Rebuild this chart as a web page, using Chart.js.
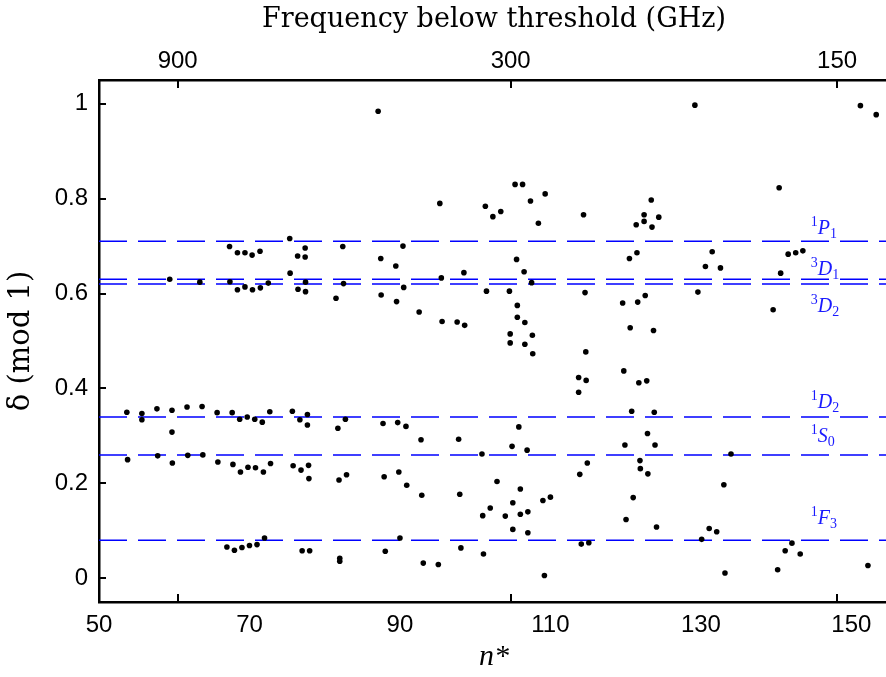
<!DOCTYPE html>
<html>
<head>
<meta charset="utf-8">
<script src="https://cdn.jsdelivr.net/npm/chart.js@4.4.0/dist/chart.umd.min.js"></script>
<style>
  html, body { margin: 0; padding: 0; background: #fff; overflow: hidden; }
  #wrap { position: relative; width: 893px; height: 677px; }
</style>
</head>
<body>
<div id="wrap"><canvas id="chart"></canvas></div>
<script>
// effective principal quantum number n* of each measured level
const nStar = [
  59.4, 63.4, 67.35, 68.4, 69.4, 70.35, 71.4, 75.35, 76.4, 77.4, 77.4, 82.4,
  67.4, 68.4, 69.4, 70.4, 71.45, 72.5, 75.4, 76.45, 77.45, 77.45, 81.5, 82.5,
  53.7, 55.7, 55.7, 57.7, 59.7, 59.7, 61.7, 63.7, 65.7, 67.7, 68.7, 69.7, 70.7,
  71.7, 72.7, 75.7, 76.7, 77.7, 77.7, 81.75, 82.75,
  53.8, 57.8, 59.75, 61.8, 63.8, 65.8, 67.8, 68.8, 69.8, 70.8, 71.85, 72.8,
  75.8, 76.85, 77.85, 77.9, 81.9, 82.9,
  67.0, 68.0, 69.0, 70.0, 71.0, 72.0, 77.0, 78.0, 82.0, 82.0,
  87.1, 95.3, 101.35, 102.35, 103.4, 105.3, 106.3, 107.35, 108.4, 109.3, 114.4,
  90.4, 87.45, 89.45, 105.5, 106.5, 95.5, 98.5, 90.5, 107.5, 87.5, 89.55,
  101.5, 104.55, 114.6, 92.55, 95.6, 97.6, 98.6, 105.6, 105.6, 106.6, 107.6,
  104.65, 104.65, 106.6,
  107.65, 114.7, 113.75, 114.75, 113.75, 87.75, 89.7, 90.8, 92.8, 97.8, 105.8,
  104.9, 106.9, 100.9, 87.9, 89.85, 90.9, 92.9, 97.95, 102.9, 106.0, 105.0,
  102.0, 101.0, 104.0, 106.0, 107.0, 109.0, 110.0, 105.0, 107.0, 113.9, 114.9,
  90.0, 88.05, 93.1, 95.1, 98.1, 101.1, 109.2, 114.1, 115.1,
  129.2, 151.2, 153.3, 140.4, 123.4, 122.45, 124.4, 121.4, 122.45, 123.5,
  121.5, 120.5, 131.5, 130.6, 132.6, 141.6, 142.6, 143.55, 140.6, 129.6,
  139.6, 119.6, 121.6, 122.6, 120.6, 123.7,
  119.75, 121.75, 122.8, 120.8, 123.8, 122.9, 119.9, 123.9, 121.9, 121.95,
  122.95, 134.0, 133.05, 121.0, 120.05, 124.1, 130.1, 131.1, 132.1, 133.2,
  142.1, 141.2, 143.2, 140.2, 152.2
];

// quantum defect delta (mod 1) of the same levels
const delta = [
  0.630, 0.624, 0.699, 0.686, 0.686, 0.681, 0.689, 0.716, 0.679, 0.696, 0.677, 0.699,
  0.625, 0.608, 0.614, 0.608, 0.612, 0.622, 0.643, 0.609, 0.624, 0.604, 0.590, 0.621,
  0.350, 0.347, 0.334, 0.357, 0.354, 0.308, 0.361, 0.362, 0.349, 0.349, 0.335, 0.340, 0.335,
  0.329, 0.351, 0.352, 0.334, 0.345, 0.323, 0.316, 0.335,
  0.250, 0.258, 0.243, 0.259, 0.260, 0.245, 0.240, 0.224, 0.234, 0.233, 0.224, 0.242,
  0.237, 0.228, 0.238, 0.210, 0.207, 0.218,
  0.066, 0.059, 0.065, 0.069, 0.071, 0.085, 0.058, 0.058, 0.042, 0.036,
  0.984, 0.790, 0.784, 0.762, 0.773, 0.830, 0.830, 0.795, 0.748, 0.810, 0.766,
  0.700, 0.674, 0.658, 0.672, 0.646, 0.633, 0.644, 0.613, 0.623, 0.597, 0.583,
  0.605, 0.605, 0.602, 0.561, 0.541, 0.540, 0.533, 0.575, 0.550, 0.539, 0.512,
  0.515, 0.496, 0.493,
  0.473, 0.477, 0.423, 0.417, 0.392, 0.326, 0.328, 0.320, 0.292, 0.293, 0.319,
  0.278, 0.270, 0.262, 0.214, 0.224, 0.196, 0.175, 0.177, 0.204, 0.188, 0.159,
  0.148, 0.132, 0.131, 0.135, 0.140, 0.164, 0.171, 0.103, 0.096, 0.219, 0.243,
  0.085, 0.057, 0.032, 0.029, 0.064, 0.051, 0.006, 0.072, 0.075,
  0.997, 0.996, 0.977, 0.823, 0.797, 0.766, 0.761, 0.745, 0.752, 0.740,
  0.686, 0.674, 0.688, 0.657, 0.654, 0.683, 0.686, 0.690, 0.643, 0.603,
  0.566, 0.580, 0.582, 0.596, 0.528, 0.522,
  0.437, 0.412, 0.416, 0.352, 0.350, 0.305, 0.281, 0.281, 0.248, 0.231,
  0.220, 0.262, 0.197, 0.170, 0.124, 0.108, 0.082, 0.105, 0.098, 0.011,
  0.074, 0.058, 0.051, 0.018, 0.027
];

// quantum defects of the reference series (dashed lines) and their names
const seriesDefects = [0.71, 0.63, 0.62, 0.34, 0.26, 0.08];
const seriesNames = ['1P1', '3D1', '3D2', '1D2', '1S0', '1F3'];

// tick labels
const xTicks = [50, 70, 90, 110, 130, 150];
const yTicks = [0, 0.2, 0.4, 0.6, 0.8, 1];
const freqTicks = [900, 300, 150];   // GHz below threshold

const RYDBERG_GHZ = 3289842;   // c * R in GHz, f = R / n*^2

const BLUE = '#0000ff';

// inward tick marks on the box, like the original figure
const boxTicks = {
  id: 'boxTicks',
  afterDraw(chart) {
    const { ctx, chartArea: a, scales } = chart;
    ctx.save();
    ctx.strokeStyle = '#000';
    ctx.lineWidth = 2;
    ctx.beginPath();
    scales.x2.ticks.forEach(t => {
      const px = Math.round(scales.x2.getPixelForValue(t.value));
      ctx.moveTo(px, a.top);
      ctx.lineTo(px, a.top + 8);
      ctx.moveTo(px, a.bottom);
      ctx.lineTo(px, a.bottom - 8);
    });
    scales.y.ticks.forEach(t => {
      const py = Math.round(scales.y.getPixelForValue(t.value));
      ctx.moveTo(a.left, py);
      ctx.lineTo(a.left + 7, py);
    });
    ctx.stroke();
    ctx.restore();
  }
};

// term symbols next to the dashed lines: superscript, italic letter, subscript
const termLabels = {
  id: 'termLabels',
  afterDatasetsDraw(chart, args, opts) {
    const { ctx, scales: { x, y } } = chart;
    ctx.save();
    ctx.fillStyle = opts.color;
    ctx.textBaseline = 'alphabetic';
    seriesNames.forEach((name, i) => {
      const base = y.getPixelForValue(seriesDefects[i]) + opts.dy[i];
      let px = x.getPixelForValue(opts.at);
      ctx.font = '14px "Liberation Serif"';
      ctx.fillText(name[0], px, base - 8);
      px += ctx.measureText(name[0]).width;
      ctx.font = 'italic 20px "Liberation Serif"';
      ctx.fillText(name[1], px, base);
      px += ctx.measureText(name[1]).width;
      ctx.font = '14px "Liberation Serif"';
      ctx.fillText(name[2], px, base + 4);
    });
    ctx.restore();
  }
};

const lineSets = seriesDefects.map(d => ({
  type: 'line',
  data: [{ x: 50, y: d }, { x: 155, y: d }],
  borderColor: BLUE,
  borderWidth: 1.5,
  borderDash: [28, 11],
  pointRadius: 0,
  order: 2
}));

const tickFont = { family: 'Liberation Sans', size: 24 };

new Chart(document.getElementById('chart'), {
  type: 'scatter',
  data: {
    datasets: [{
      data: nStar.map((n, i) => ({ x: n, y: delta[i] })),
      backgroundColor: '#000',
      borderWidth: 0,
      pointRadius: 2.8,
      order: 1
    }].concat(lineSets)
  },
  options: {
    responsive: true,
    maintainAspectRatio: false,
    animation: false,
    layout: { padding: 0 },
    plugins: {
      legend: { display: false },
      tooltip: { enabled: false },
      termLabels: {
        color: '#1a1aff',
        at: 144.6,
        dy: [-7, -4, 28, -9, -13, -16]
      }
    },
    scales: {
      x: {
        type: 'linear',
        position: 'bottom',
        min: 50,
        max: 155,
        afterBuildTicks: s => { s.ticks = xTicks.map(v => ({ value: v })); },
        afterFit: s => { s.height = 75; },
        ticks: { font: tickFont, color: '#000', padding: 9, maxRotation: 0, autoSkip: false },
        grid: { display: false, drawTicks: false },
        border: { display: true, color: '#000', width: 2.5 },
        title: {
          display: true,
          text: 'n*',
          color: '#000',
          font: { family: 'Liberation Serif', style: 'italic', size: 30 },
          padding: { top: 0, bottom: 2 }
        }
      },
      x2: {
        type: 'linear',
        position: 'top',
        min: 50,
        max: 155,
        afterBuildTicks: s => { s.ticks = freqTicks.map(f => ({ value: Math.sqrt(RYDBERG_GHZ / f) })); },
        afterFit: s => { s.height = 80; },
        ticks: {
          font: tickFont, color: '#000', padding: 4, maxRotation: 0, autoSkip: false,
          callback: (v, i) => String(freqTicks[i])
        },
        grid: { display: false, drawTicks: false },
        border: { display: true, color: '#000', width: 2.5 },
        title: {
          display: true,
          text: 'Frequency below threshold (GHz)',
          color: '#000',
          font: { family: 'DejaVu Serif', size: 27 },
          padding: { top: 4, bottom: 0 }
        }
      },
      y: {
        type: 'linear',
        min: -0.05,
        max: 1.05,
        afterBuildTicks: s => { s.ticks = yTicks.map(v => ({ value: v })); },
        afterFit: s => { s.width = 99; },
        ticks: { font: tickFont, color: '#000', padding: 11, callback: v => String(v) },
        grid: { display: false, drawTicks: false },
        border: { display: true, color: '#000', width: 2.5 },
        title: {
          display: true,
          text: 'δ (mod 1)',
          color: '#000',
          font: { family: 'DejaVu Serif', size: 29 },
          padding: { top: 4, bottom: 0 }
        }
      }
    }
  },
  plugins: [boxTicks, termLabels]
});
</script>
</body>
</html>
